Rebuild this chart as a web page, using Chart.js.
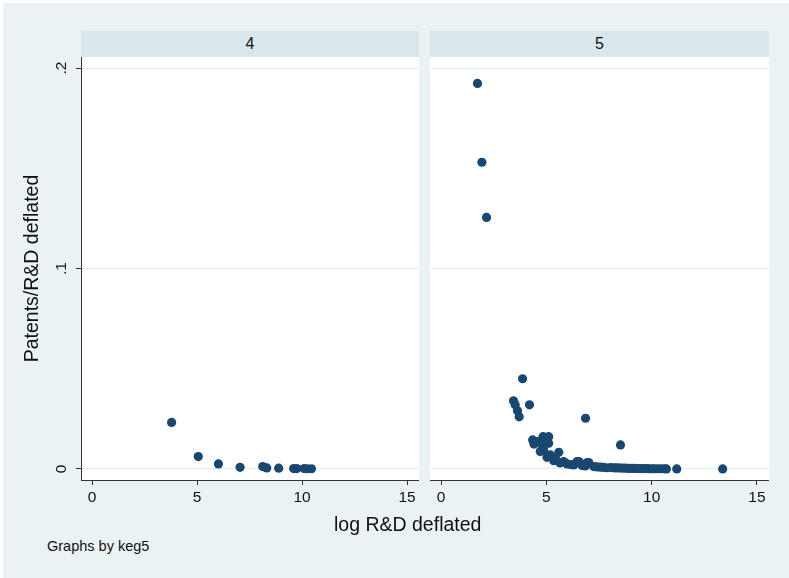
<!DOCTYPE html>
<html>
<head>
<meta charset="utf-8">
<script src="https://cdn.jsdelivr.net/npm/chart.js@4"></script>
<style>
  body { margin: 0; background: #fff; font-family: "Liberation Sans", Arial, sans-serif; }
  #wrap { position: absolute; left: 3px; top: 3px; width: 786px; height: 575px; background: #eaf2f3; }
  .strip { position: absolute; top: 31px; height: 26px; background: #d9e6eb; color: #111;
           font-size: 16px; text-align: center; line-height: 26px; }
  .box { position: absolute; top: 57px; height: 463px; }
  .lbl { position: absolute; color: #111; white-space: nowrap; }
</style>
</head>
<body>
<div id="wrap"></div>
<div class="strip" style="left:81px; width:338px;">4</div>
<div class="strip" style="left:430px; width:339px;">5</div>
<div class="box" style="left:0; width:419px;"><canvas id="c4"></canvas></div>
<div class="box" style="left:430px; width:339px;"><canvas id="c5"></canvas></div>
<div class="lbl" style="left:334px; top:513px; font-size:19.5px;">log R&amp;D deflated</div>
<div class="lbl" style="left:47px; top:538px; font-size:14.5px;">Graphs by keg5</div>
<script>
// --- DONNEES ---
const xTicks = [0, 5, 10, 15];
const yTicks = [0, 0.1, 0.2];
const yTickLabels = ['0', '.1', '.2'];

// panel keg5 = 4
const x4 = [3.79, 5.06, 6.02, 7.05, 8.13, 8.32, 8.89, 9.60, 9.75, 10.10, 10.25, 10.45];
const y4 = [0.0232, 0.0062, 0.0025, 0.0008, 0.0012, 0.0005, 0.0004, 0.0002, 0.0002, 0.0002, 0.0001, 0.0001];

// panel keg5 = 5
const x5 = [1.73, 1.94, 2.16, 3.87, 3.44, 3.52, 3.63, 3.71, 4.20, 6.86, 8.52,
            4.35, 4.56, 4.84, 5.11, 4.80, 5.11, 4.87, 5.19, 5.59, 5.43, 5.82, 6.54, 7.01,
            4.41, 4.71, 5.03, 5.35, 5.99, 6.30, 6.70, 7.25, 7.57, 8.05, 8.44,
            6.46, 6.94, 5.65, 6.15, 6.85,
            7.40, 7.70, 7.85, 8.20, 8.30, 8.60, 8.75, 8.90, 9.05, 9.20, 9.35, 9.50,
            9.65, 9.80, 9.90, 10.05, 10.15, 10.30, 10.45, 10.60, 10.70, 11.19, 13.37];
const y5 = [0.1923, 0.1530, 0.1255, 0.0450, 0.0340, 0.0320, 0.0290, 0.0260, 0.0320, 0.0253, 0.0120,
            0.0145, 0.0136, 0.0161, 0.0161, 0.0120, 0.0128, 0.0095, 0.0070, 0.0083, 0.0053, 0.0037, 0.0037, 0.0032,
            0.0124, 0.0087, 0.0058, 0.0041, 0.0025, 0.0020, 0.0017, 0.0012, 0.0009, 0.0007, 0.0005,
            0.0037, 0.0032, 0.0030, 0.0022, 0.0015,
            0.0010, 0.0008, 0.0006, 0.0006, 0.0005, 0.0004, 0.0004, 0.0003, 0.0003, 0.0003, 0.0002, 0.0002,
            0.0002, 0.0002, 0.0001, 0.0001, 0.0001, 0.0001, 0.0001, 0.0001, 0.0000, 0.0000, 0.0000];

const navy = '#1a476f';
const gridCol = '#e4eef0';
const axisCol = '#333';

// fond blanc de la zone de tracé
const whiteArea = {
    id: 'whiteArea',
    beforeDraw(chart) {
        const a = chart.chartArea, ctx = chart.ctx;
        ctx.save();
        ctx.fillStyle = '#fff';
        ctx.fillRect(a.left, a.top, a.right - a.left, a.bottom - a.top);
        ctx.restore();
    }
};

function makePanel(id, xs, ys, withYAxis) {
    const pts = xs.map((x, i) => ({ x: x, y: ys[i] }));
    return new Chart(document.getElementById(id), {
        type: 'scatter',
        data: { datasets: [{ data: pts, backgroundColor: navy, borderWidth: 0, pointRadius: 4.6, pointHoverRadius: 4.6 }] },
        plugins: [whiteArea],
        options: {
            responsive: true, maintainAspectRatio: false, animation: false,
            layout: { padding: 0, autoPadding: false },
            plugins: { legend: { display: false }, tooltip: { enabled: false } },
            scales: {
                x: {
                    type: 'linear', min: -0.524, max: 15.57,
                    afterBuildTicks: s => { s.ticks = xTicks.map(v => ({ value: v })); },
                    afterFit: s => { s.height = 40; s.paddingLeft = 0; s.paddingRight = 0; },
                    grid: { drawOnChartArea: false, drawTicks: true, tickLength: 5, tickColor: axisCol },
                    border: { display: true, color: axisCol, width: 1 },
                    ticks: { color: '#111', font: { size: 15.5, family: 'Liberation Sans' }, padding: 3, maxRotation: 0 }
                },
                y: {
                    type: 'linear', min: -0.0055, max: 0.2055,
                    afterBuildTicks: s => { s.ticks = yTicks.map(v => ({ value: v })); },
                    afterFit: s => { s.width = withYAxis ? 81 : 0; s.paddingTop = 0; s.paddingBottom = 0; },
                    grid: { color: gridCol, lineWidth: 1, drawTicks: withYAxis, tickLength: 5, tickColor: axisCol },
                    border: { display: withYAxis, color: axisCol, width: 1 },
                    ticks: {
                        display: withYAxis, color: '#111', font: { size: 15.5, family: 'Liberation Sans' },
                        minRotation: 90, maxRotation: 90, crossAlign: 'center', padding: 8,
                        callback: (v) => yTickLabels[yTicks.indexOf(v)]
                    },
                    title: {
                        display: withYAxis, text: 'Patents/R&D deflated', color: '#111',
                        font: { size: 19.5, family: 'Liberation Sans' }, padding: { top: 21, bottom: 0 }
                    }
                }
            }
        }
    });
}

makePanel('c4', x4, y4, true);
makePanel('c5', x5, y5, false);
</script>
</body>
</html>
